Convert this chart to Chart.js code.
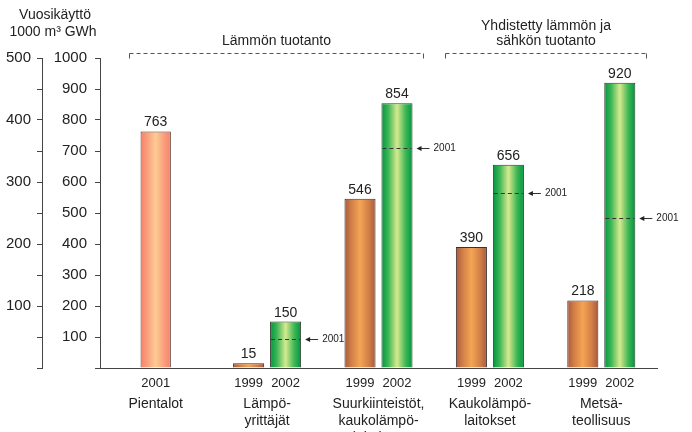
<!DOCTYPE html>
<html>
<head>
<meta charset="utf-8">
<script src="https://cdn.jsdelivr.net/npm/chart.js@4/dist/chart.umd.min.js"></script>
<style>
  html, body { margin: 0; padding: 0; background: #ffffff; }
  #wrap { width: 692px; height: 432px; }
</style>
</head>
<body>
<div id="wrap"><canvas id="chart" width="692" height="432"></canvas></div>
<script>
// Annual consumption of wood fuel by user group (GWh; left axis also in 1000 m3)
const categories = [
  ["Pientalot"],
  ["Lämpö-", "yrittäjät"],
  ["Suurkiinteistöt,", "kaukolämpö-", "laitokset"],
  ["Kaukolämpö-", "laitokset"],
  ["Metsä-", "teollisuus"]
];
const years = ["1999", "2002", "2001"];
const values1999 = [null, 15, 546, 390, 218];
const values2002 = [null, 150, 854, 656, 920];
const values2001 = [763, null, null, null, null];
// 2001 level marked inside the 2002 bars
const level2001 = [null, 95, 710, 563, 483];

const gwhRange = [0, 1000];
const volumeRange = [0, 500];

const groupLabels = [["Lämmön tuotanto"], ["Yhdistetty lämmön ja", "sähkön tuotanto"]];
const groupFirst = [0, 3];
const groupLast = [2, 4];

const FONT = "'Liberation Sans', Arial, sans-serif";
const TEXT = "#222222";
const AXIS = "#444444";

// horizontal cylinder-like shading across each bar
function barShade(edge, inner, middle) {
  return (ctx) => {
    const el = ctx.element;
    if (!el || typeof el.x !== "number" || !el.width) return middle;
    const half = el.width / 2;
    const g = ctx.chart.ctx.createLinearGradient(el.x - half, 0, el.x + half, 0);
    g.addColorStop(0, edge);
    g.addColorStop(0.22, inner);
    g.addColorStop(0.5, middle);
    g.addColorStop(0.78, inner);
    g.addColorStop(1, edge);
    return g;
  };
}

const labelsPlugin = {
  id: "barLabels",
  afterDatasetsDraw(chart) {
    const c = chart.ctx;
    const y = chart.scales.y;
    c.save();
    chart.data.datasets.forEach((ds, di) => {
      const meta = chart.getDatasetMeta(di);
      meta.data.forEach((el, i) => {
        const v = ds.data[i];
        if (v === null || v === undefined) return;
        // value above the bar
        c.fillStyle = TEXT;
        c.font = "14px " + FONT;
        c.textAlign = "center";
        c.textBaseline = "alphabetic";
        c.fillText(String(v), el.x, el.y - 5);
        // year under the bar
        c.font = "13px " + FONT;
        c.textBaseline = "middle";
        c.fillText(ds.label, el.x, y.bottom + 15);
      });
    });

    // 2001 markers on the 2002 bars
    const meta2002 = chart.getDatasetMeta(1);
    meta2002.data.forEach((el, i) => {
      const v = level2001[i];
      if (v === null || v === undefined) return;
      const py = Math.round(y.getPixelForValue(v)) + 0.5;
      const half = el.width / 2;
      c.strokeStyle = "#333333";
      c.lineWidth = 1;
      c.setLineDash([4, 3]);
      c.beginPath();
      c.moveTo(el.x - half + 1, py);
      c.lineTo(el.x + half - 1, py);
      c.stroke();
      c.setLineDash([]);
      const hx = el.x + half + 4;
      c.beginPath();
      c.moveTo(hx + 4, py);
      c.lineTo(hx + 13, py);
      c.stroke();
      c.fillStyle = "#222222";
      c.beginPath();
      c.moveTo(hx, py);
      c.lineTo(hx + 5, py - 2.5);
      c.lineTo(hx + 5, py + 2.5);
      c.closePath();
      c.fill();
      c.font = "10px " + FONT;
      c.textAlign = "left";
      c.textBaseline = "middle";
      c.fillText("2001", hx + 17, py);
    });
    c.restore();
  },
  afterDraw(chart) {
    const c = chart.ctx;
    const x = chart.scales.x;
    const area = chart.chartArea;
    c.save();
    // axis caption
    c.fillStyle = TEXT;
    c.font = "14px " + FONT;
    c.textAlign = "center";
    c.textBaseline = "middle";
    c.fillText("Vuosikäyttö", 55, 15);
    c.fillText("1000 m³ GWh", 53, 32);

    // group brackets
    const spans = [[-0.24, 0.4], [-0.4, 0.4]];
    const by = area.top - 4.5;
    groupLabels.forEach((lines, g) => {
      const x0 = Math.round(x.getPixelForValue(groupFirst[g] + spans[g][0])) + 0.5;
      const x1 = Math.round(x.getPixelForValue(groupLast[g] + spans[g][1])) + 0.5;
      c.strokeStyle = "#555555";
      c.lineWidth = 1;
      c.setLineDash([4, 3]);
      c.beginPath();
      c.moveTo(x0, by);
      c.lineTo(x1, by);
      c.stroke();
      c.setLineDash([]);
      c.beginPath();
      c.moveTo(x0, by);
      c.lineTo(x0, by + 5);
      c.moveTo(x1, by);
      c.lineTo(x1, by + 5);
      c.stroke();
      c.fillStyle = TEXT;
      c.font = "14px " + FONT;
      c.textAlign = "center";
      c.textBaseline = "middle";
      const cx = (x0 + x1) / 2;
      lines.forEach((t, k) => {
        c.fillText(t, cx, by - 12 - (lines.length - 1 - k) * 15.5);
      });
    });
    c.restore();
  }
};

const chart = new Chart(document.getElementById("chart"), {
  type: "bar",
  data: {
    labels: categories,
    datasets: [
      {
        label: years[0],
        data: values1999,
        backgroundColor: barShade("#a85a3c", "#d27f48", "#f4a553"),
        borderColor: "#3a3030",
        borderWidth: 1,
        categoryPercentage: 0.664,
        barPercentage: 0.84
      },
      {
        label: years[1],
        data: values2002,
        backgroundColor: barShade("#009640", "#3db656", "#d6ea8e"),
        borderColor: "#2e3a2e",
        borderWidth: 1,
        categoryPercentage: 0.664,
        barPercentage: 0.84
      },
      {
        label: years[2],
        data: values2001,
        backgroundColor: barShade("#f5806a", "#fa9e7c", "#fdcb94"),
        borderColor: "#5a3a30",
        borderWidth: 1,
        categoryPercentage: 0.664,
        barPercentage: 0.41
      }
    ]
  },
  options: {
    responsive: false,
    animation: false,
    skipNull: true,
    layout: { padding: { top: 58, right: 35, left: 0, bottom: 0 } },
    plugins: {
      legend: { display: false },
      tooltip: { enabled: false }
    },
    scales: {
      x: {
        position: "bottom",
        grid: { display: true, drawOnChartArea: false, drawTicks: false },
        border: { display: true, color: AXIS, width: 1 },
        ticks: {
          color: TEXT,
          font: { family: FONT, size: 14, lineHeight: 17 / 14 },
          padding: 28,
          autoSkip: false,
          maxRotation: 0
        },
        afterFit: (s) => { s.height = 64; }
      },
      y: {
        position: "left",
        weight: 0,
        min: gwhRange[0],
        max: gwhRange[1],
        grid: { drawOnChartArea: false, tickLength: 5, color: AXIS },
        border: { display: true, color: AXIS, width: 1 },
        ticks: {
          stepSize: 100,
          color: TEXT,
          font: { family: FONT, size: 15 },
          padding: 8,
          callback: (v) => (v === 0 ? "" : v)
        },
        afterFit: (s) => { s.width = 58; }
      },
      y2: {
        position: "left",
        weight: 1,
        min: volumeRange[0],
        max: volumeRange[1],
        grid: { drawOnChartArea: false, tickLength: 5, color: AXIS },
        border: { display: true, color: AXIS, width: 1 },
        ticks: {
          stepSize: 50,
          color: TEXT,
          font: { family: FONT, size: 15 },
          padding: 6,
          autoSkip: false,
          callback: (v) => (v !== 0 && v % 100 === 0 ? v : "")
        },
        afterFit: (s) => { s.width = 42; }
      }
    }
  },
  plugins: [labelsPlugin]
});
// second pass so the bar shading can use the laid-out bar positions
chart.update();
</script>
</body>
</html>
